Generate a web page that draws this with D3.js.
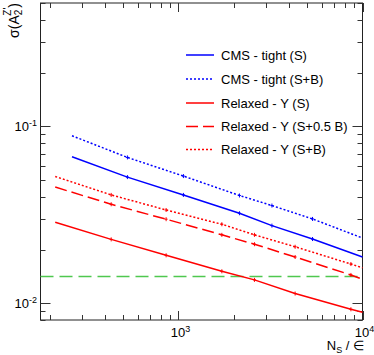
<!DOCTYPE html>
<html>
<head>
<meta charset="utf-8">
<script src="https://d3js.org/d3.v7.min.js"></script>
<style>
  body { margin: 0; background: #fff; }
  text { font-family: "Liberation Sans", Arial, sans-serif; fill: #000; }
</style>
</head>
<body>
<div id="chart"></div>
<script>
// N_S values where the graphs were evaluated
var nsCms = [264, 528, 1064, 2145, 3220, 5350, 10000];
var nsRelaxed = [214, 431, 857, 1721, 2588, 4305, 8650, 10000];

// sigma(A2) for each selection
var sigmaCmsS = [0.0673, 0.0516, 0.0409, 0.0322, 0.0274, 0.0230, 0.0182];
var sigmaCmsSB = [0.0885, 0.0667, 0.0523, 0.0406, 0.0356, 0.0299, 0.0233];
var sigmaRelS = [0.0286, 0.0229, 0.0186, 0.0151, 0.0135, 0.0113, 0.0092, 0.00885];
var sigmaRelS05B = [0.0453, 0.0362, 0.0298, 0.0243, 0.0215, 0.0182, 0.0144, 0.0136];
var sigmaRelSB = [0.0520, 0.0409, 0.0336, 0.0279, 0.0243, 0.0208, 0.0166, 0.0158];

var threshold = 0.0141;

var legendLabels = ["CMS - tight (S)", "CMS - tight (S+B)", "Relaxed - \u03a5 (S)",
                    "Relaxed - \u03a5 (S+0.5 B)", "Relaxed - \u03a5 (S+B)"];

var series = [
  { ns: nsCms, v: sigmaCmsS, color: "#0000ff", dash: null },
  { ns: nsCms, v: sigmaCmsSB, color: "#0000ff", dash: "2,2" },
  { ns: nsRelaxed, v: sigmaRelS, color: "#ff0000", dash: null },
  { ns: nsRelaxed, v: sigmaRelS05B, color: "#ff0000", dash: "12,5" },
  { ns: nsRelaxed, v: sigmaRelSB, color: "#ff0000", dash: "2,2" }
];

var W = 374, H = 355;
var pLeft = 40.5, pRight = 362.5, pTop = 3, pBottom = 320;

var svg = d3.select("#chart").append("svg")
  .attr("width", W).attr("height", H);

var x = d3.scaleLog().domain([178, 10000]).range([pLeft, pRight]);
var y = d3.scaleLog().domain([0.008, 0.5]).range([pBottom, pTop]);

// frame
svg.append("rect")
  .attr("x", pLeft).attr("y", pTop)
  .attr("width", pRight - pLeft).attr("height", pBottom - pTop)
  .attr("fill", "none").attr("stroke", "#222").attr("stroke-width", 1);

// ticks (mirrored on top/right like ROOT)
var xt = x.ticks().filter(function (d) { return d >= 178 && d <= 10000; });
var yt = y.ticks().filter(function (d) { return d >= 0.008 && d <= 0.5; });
function isMajor(d) { var l = Math.log10(d); return Math.abs(l - Math.round(l)) < 1e-6; }

var tg = svg.append("g").attr("stroke", "#333").attr("stroke-width", 1);
xt.forEach(function (d) {
  var len = isMajor(d) ? 9 : 5;
  var px = Math.round(x(d)) + 0.5;
  tg.append("line").attr("x1", px).attr("x2", px).attr("y1", pBottom).attr("y2", pBottom - len);
  tg.append("line").attr("x1", px).attr("x2", px).attr("y1", pTop).attr("y2", pTop + len);
});
yt.forEach(function (d) {
  var len = isMajor(d) ? 10 : 5;
  var py = Math.round(y(d)) + 0.5;
  tg.append("line").attr("x1", pLeft).attr("x2", pLeft + len).attr("y1", py).attr("y2", py);
  tg.append("line").attr("x1", pRight).attr("x2", pRight - len).attr("y1", py).attr("y2", py);
});

// tick labels
function powLabel(g, px, py, exp, anchor) {
  var t = g.append("text").attr("x", px).attr("y", py)
    .attr("text-anchor", anchor).style("font-size", "13px");
  t.append("tspan").text("10");
  t.append("tspan").attr("dy", -5).style("font-size", "9px").text(exp);
}
var lg = svg.append("g");
[0.1, 0.01].forEach(function (d) {
  powLabel(lg, 37, y(d) + 5, String(Math.round(Math.log10(d))), "end");
});
[1000, 10000].forEach(function (d) {
  powLabel(lg, x(d) + 2, 337, String(Math.round(Math.log10(d))), "middle");
});

// axis titles
var xtitle = svg.append("text").attr("x", 364).attr("y", 350)
  .attr("text-anchor", "end").style("font-size", "13px");
xtitle.append("tspan").text("N");
xtitle.append("tspan").attr("dy", 3).style("font-size", "9px").text("S");
xtitle.append("tspan").attr("dy", -3).text(" / \u2208");

var ytitle = svg.append("text")
  .attr("transform", "translate(19,3) rotate(-90)")
  .attr("text-anchor", "end").style("font-size", "14px");
ytitle.append("tspan").text("\u03c3(A");
ytitle.append("tspan").attr("dy", 3).style("font-size", "10px").text("2");
ytitle.append("tspan").attr("dx", -6).attr("dy", -11).style("font-size", "10px").text("Z'");
ytitle.append("tspan").attr("dy", 8).text(")");

// threshold line
svg.append("line")
  .attr("x1", pLeft).attr("x2", pRight)
  .attr("y1", y(threshold)).attr("y2", y(threshold))
  .attr("stroke", "#4fc84f").attr("stroke-width", 1.5)
  .attr("stroke-dasharray", "13,6");

// curves
var line = d3.line()
  .x(function (d) { return x(d[0]); })
  .y(function (d) { return y(d[1]); });

series.forEach(function (s) {
  var pts = s.ns.map(function (n, i) { return [n, s.v[i]]; });
  svg.append("path")
    .attr("d", line(pts))
    .attr("fill", "none")
    .attr("stroke", s.color)
    .attr("stroke-width", 1.5)
    .attr("stroke-dasharray", s.dash);
  // small error-bar markers on interior points
  var mg = svg.append("g").attr("stroke", s.color).attr("stroke-width", 1);
  pts.slice(1, -1).forEach(function (p) {
    var px = x(p[0]), py = y(p[1]);
    mg.append("line").attr("x1", px).attr("x2", px).attr("y1", py - 2).attr("y2", py + 2);
    mg.append("line").attr("x1", px - 1.5).attr("x2", px + 1.5).attr("y1", py).attr("y2", py);
  });
});

// legend
var legY = [55, 79, 103, 126.5, 149.5];
var leg = svg.append("g");
series.forEach(function (s, i) {
  leg.append("line")
    .attr("x1", 186).attr("x2", 214)
    .attr("y1", legY[i]).attr("y2", legY[i])
    .attr("stroke", s.color).attr("stroke-width", 1.5)
    .attr("stroke-dasharray", s.dash);
  leg.append("text")
    .attr("x", 221).attr("y", legY[i] + 4.5)
    .style("font-size", "13px")
    .text(legendLabels[i]);
});
</script>
</body>
</html>
